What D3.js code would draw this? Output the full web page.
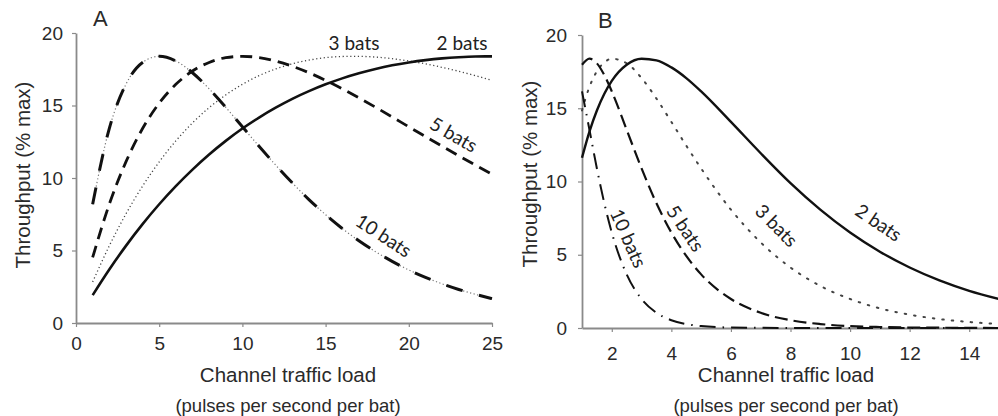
<!DOCTYPE html>
<html>
<head>
<meta charset="utf-8">
<script src="https://cdn.jsdelivr.net/npm/d3@7"></script>
<style>
  html, body { margin: 0; padding: 0; background: #fff; }
  svg { display: block; }
  .tick text { font-family: "Liberation Sans", Arial, sans-serif; font-size: 19px; fill: #2a2a2a; }
  .title { font-family: "Liberation Sans", Arial, sans-serif; fill: #2a2a2a; }
  .clabel { font-family: Lato, "Open Sans", sans-serif; font-size: 19px; fill: #222; }
</style>
</head>
<body>
<svg id="chart" width="998" height="416"></svg>
<script>
// ---------- Data ----------
// Panel A: channel traffic load (pulses per second per bat) vs throughput (% max)
const xA = [1,2,3,4,5,6,7,8,9,10,11,12,13,14,15,16,17,18,19,20,21,22,23,24,25];
const a2bats  = [1.92,3.69,5.32,6.82,8.19,9.44,10.58,11.62,12.56,13.41,14.17,14.85,15.46,15.99,16.46,16.87,17.22,17.52,17.77,17.97,18.13,18.25,18.33,18.38,18.39];
const a3bats  = [2.83,5.32,7.52,9.44,11.11,12.56,13.80,14.85,15.73,16.46,17.06,17.52,17.88,18.13,18.30,18.38,18.39,18.34,18.23,18.07,17.87,17.63,17.36,17.06,16.73];
const a5bats  = [4.52,8.19,11.11,13.41,15.16,16.46,17.38,17.97,18.30,18.39,18.31,18.07,17.71,17.26,16.73,16.15,15.53,14.88,14.21,13.53,12.86,12.19,11.53,10.89,10.26];
const a10bats = [8.19,13.41,16.46,17.97,18.39,18.07,17.26,16.15,14.88,13.53,12.19,10.89,9.66,8.51,7.47,6.52,5.67,4.92,4.25,3.66,3.15,2.70,2.31,1.98,1.68];

// Panel B
const xB = [1,1.25,1.5,1.75,2,2.5,3,3.5,4,4.5,5,6,7,8,9,10,11,12,13,14,15];
const b2bats  = [11.62,13.41,14.85,15.99,16.87,17.97,18.38,18.27,17.79,17.06,16.15,14.07,11.93,9.89,8.08,6.52,5.21,4.13,3.25,2.54,1.98];
const b3bats  = [14.85,16.46,17.52,18.13,18.38,18.07,17.06,15.66,14.07,12.45,10.89,8.08,5.84,4.13,2.87,1.98,1.34,0.91,0.61,0.41,0.27];
const b5bats  = [17.97,18.39,18.07,17.26,16.15,13.53,10.89,8.51,6.52,4.92,3.66,1.98,1.04,0.53,0.27,0.13,0.07,0.03,0.02,0.01,0.00];
const b10bats = [16.15,13.53,10.89,8.51,6.52,3.66,1.98,1.04,0.53,0.27,0.13,0.03,0.01,0,0,0,0,0,0,0,0];

const yTicks = [0,5,10,15,20];
const xTicksA = [0,5,10,15,20,25];
const xTicksB = [2,4,6,8,10,12,14];

// ---------- Drawing ----------
const svg = d3.select("#chart");

function styleAxis(g) {
  g.select(".domain").attr("stroke", "#8a8a8a").attr("stroke-width", 1.8);
  g.selectAll(".tick line").attr("stroke", "#8a8a8a").attr("stroke-width", 1.2);
}

function panel(cfg) {
  const x = d3.scaleLinear().domain(cfg.xDomain).range(cfg.xRange);
  const y = d3.scaleLinear().domain([0, 20]).range(cfg.yRange);

  const yAxis = d3.axisLeft(y).tickValues(yTicks).tickSize(4).tickSizeOuter(0).tickPadding(cfg.yPad).tickFormat(d3.format("d"));
  svg.append("g").attr("transform", `translate(${cfg.xRange[0]},0)`).call(yAxis).call(styleAxis);

  const xAxis = d3.axisBottom(x).tickValues(cfg.xTicks).tickSize(4).tickSizeOuter(0).tickPadding(cfg.xPad).tickFormat(d3.format("d"));
  svg.append("g").attr("transform", `translate(0,${cfg.yRange[0]})`).call(xAxis).call(styleAxis);

  const line = (xs) => d3.line().x((d, i) => x(xs[i])).y(d => y(d)).curve(d3.curveMonotoneX);

  cfg.series.forEach(s => {
    (s.layers).forEach(L => {
      svg.append("path")
        .attr("d", line(cfg.xs)(s.values))
        .attr("fill", "none")
        .attr("stroke", L.color)
        .attr("stroke-width", L.width)
        .attr("stroke-dasharray", L.dash || null)
        .attr("stroke-linecap", L.cap || "butt");
    });
  });

  // panel letter
  svg.append("text").attr("class", "title").attr("x", cfg.letter[0]).attr("y", cfg.letter[1])
    .attr("font-size", 22).text(cfg.letterText);

  // axis titles
  const cx = cfg.titleX;
  svg.append("text").attr("class", "title").attr("x", cx).attr("y", 382)
    .attr("text-anchor", "middle").attr("font-size", 20.5).text("Channel traffic load");
  svg.append("text").attr("class", "title").attr("x", cx).attr("y", 412)
    .attr("text-anchor", "middle").attr("font-size", 18.5).text("(pulses per second per bat)");
  svg.append("text").attr("class", "title")
    .attr("transform", `translate(${cfg.yTitle[0]},${cfg.yTitle[1]}) rotate(-90)`)
    .attr("text-anchor", "middle").attr("font-size", 20.5).text("Throughput (% max)");

  cfg.labels.forEach(l => {
    svg.append("text").attr("class", "clabel")
      .attr("transform", `translate(${l.x},${l.y}) rotate(${l.r})`)
      .attr("text-anchor", "middle").attr("dominant-baseline", "central")
      .text(l.t);
  });
}

panel({
  xDomain: [0, 25], xRange: [76, 492], yRange: [323, 33],
  xTicks: xTicksA, xs: xA, yPad: 9, xPad: 10,
  letter: [93, 26], letterText: "A",
  titleX: 288, yTitle: [30, 175],
  series: [
    { values: a3bats, layers: [{ color: "#444", width: 1.3, dash: "1.2,2.6" }] },
    { values: a10bats, layers: [
        { color: "#777", width: 1.2, dash: "1.2,2.4" },
        { color: "#111", width: 3, dash: "17,17" } ] },
    { values: a5bats, layers: [{ color: "#111", width: 2.8, dash: "12,7" }] },
    { values: a2bats, layers: [{ color: "#111", width: 2.6 }] }
  ],
  labels: [
    { t: "3 bats", x: 354, y: 42, r: 0 },
    { t: "2 bats", x: 462, y: 42, r: 0 },
    { t: "5 bats", x: 454, y: 134, r: 30 },
    { t: "10 bats", x: 384, y: 235, r: 33 }
  ]
});

panel({
  xDomain: [1, 15], xRange: [582, 999], yRange: [328, 35],
  xTicks: xTicksB, xs: xB, yPad: 11, xPad: 15,
  letter: [598, 28], letterText: "B",
  titleX: 786, yTitle: [537, 174],
  series: [
    { values: b3bats, layers: [{ color: "#444", width: 2, dash: "1.5,8", cap: "round" }] },
    { values: b10bats, layers: [{ color: "#111", width: 2, dash: "16,7,1.5,7" }] },
    { values: b5bats, layers: [{ color: "#111", width: 2.2, dash: "13,6" }] },
    { values: b2bats, layers: [{ color: "#111", width: 2.4 }] }
  ],
  labels: [
    { t: "10 bats", x: 629, y: 238, r: 66 },
    { t: "5 bats", x: 686, y: 228, r: 56 },
    { t: "3 bats", x: 777, y: 225, r: 45 },
    { t: "2 bats", x: 879, y: 222, r: 34 }
  ]
});
</script>
</body>
</html>
